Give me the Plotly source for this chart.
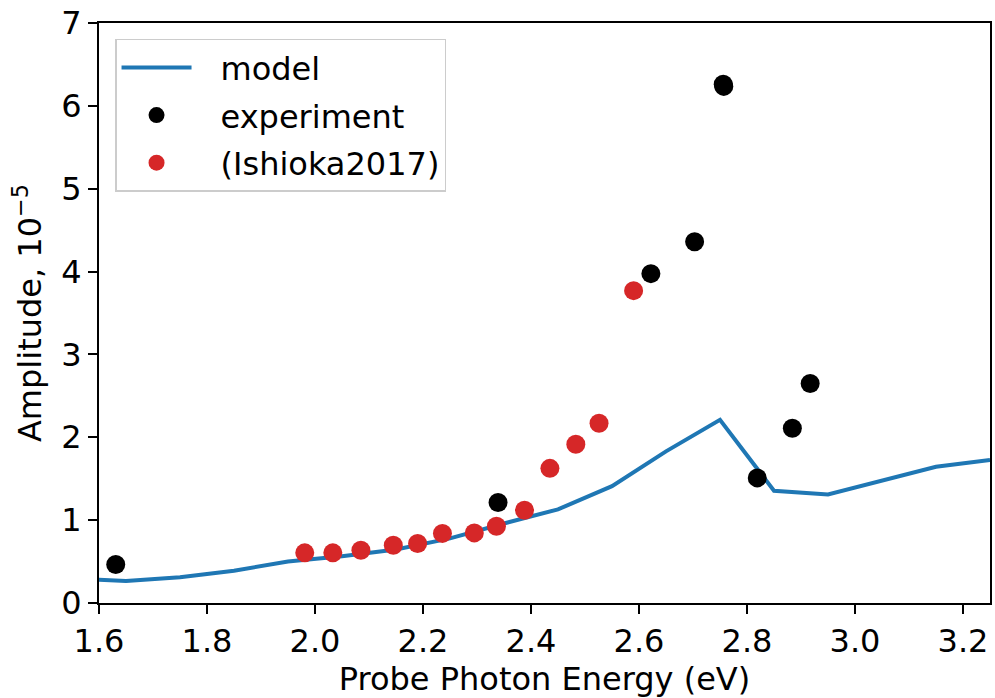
import plotly.graph_objects as go

model_x = [1.55, 1.65, 1.75, 1.85, 1.95, 2.05, 2.15, 2.25, 2.35, 2.45, 2.55, 2.65, 2.75, 2.85, 2.95, 3.05, 3.15, 3.25]
model_y = [0.295, 0.266, 0.31, 0.39, 0.50, 0.565, 0.645, 0.78, 0.96, 1.13, 1.41, 1.83, 2.21, 1.355, 1.31, 1.48, 1.645, 1.725]

exp_x = [1.631, 2.339, 2.622, 2.703, 2.756, 2.757, 2.819, 2.884, 2.917]
exp_y = [0.464, 1.214, 3.975, 4.36, 6.26, 6.235, 1.51, 2.11, 2.65]

ish_x = [1.981, 2.033, 2.085, 2.145, 2.19, 2.236, 2.295, 2.336, 2.388, 2.435, 2.483, 2.526, 2.59]
ish_y = [0.605, 0.605, 0.637, 0.698, 0.718, 0.84, 0.846, 0.927, 1.12, 1.625, 1.915, 2.17, 3.77]

FONT = "DejaVu Sans"
FS = 32
PAD = "\u2002\u2005"

fig = go.Figure()
fig.add_trace(go.Scatter(x=model_x, y=model_y, mode="lines", name=PAD + "model",
                         line=dict(color="#1f77b4", width=4), legendgroup="a"))
fig.add_trace(go.Scatter(x=exp_x, y=exp_y, mode="markers", name=PAD + "experiment",
                         marker=dict(color="black", size=19), legendgroup="b"))
fig.add_trace(go.Scatter(x=ish_x, y=ish_y, mode="markers", name=PAD + "(Ishioka2017)",
                         marker=dict(color="#d62728", size=19), legendgroup="c"))

axis_common = dict(showgrid=False, zeroline=False, showline=True, linecolor="black",
                   linewidth=2, mirror=True, ticks="outside", ticklen=9, tickwidth=2,
                   tickcolor="black", tickfont=dict(family=FONT, size=FS, color="black"))

fig.update_layout(
    width=995, height=698,
    margin=dict(l=99, r=3, t=23, b=95),
    paper_bgcolor="white", plot_bgcolor="white",
    font=dict(family=FONT, size=FS, color="black"),
    xaxis=dict(range=[1.6, 3.25], tickvals=[1.6, 1.8, 2.0, 2.2, 2.4, 2.6, 2.8, 3.0, 3.2],
               ticktext=["1.6", "1.8", "2.0", "2.2", "2.4", "2.6", "2.8", "3.0", "3.2"],
               title=dict(text="Probe Photon Energy (eV)", font=dict(family=FONT, size=FS), standoff=8),
               **axis_common),
    yaxis=dict(range=[0, 7], tickvals=[0, 1, 2, 3, 4, 5, 6, 7],
               title=dict(text="Amplitude, 10<sup>\u22125</sup>", font=dict(family=FONT, size=FS), standoff=10),
               **axis_common),
    legend=dict(x=0.018, y=0.973, xanchor="left", yanchor="top",
                bgcolor="rgba(255,255,255,0.8)", bordercolor="#cccccc", borderwidth=1.5,
                font=dict(family=FONT, size=FS, color="black"), itemwidth=70,
                tracegroupgap=3),
    showlegend=True,
)

fig.write_html("out.html")
